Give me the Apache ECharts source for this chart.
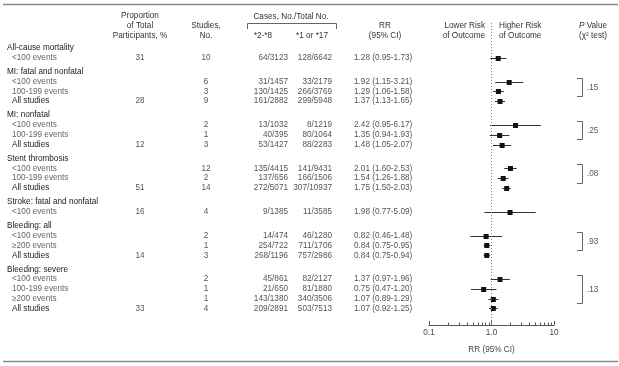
<!DOCTYPE html>
<html><head><meta charset="utf-8">
<script src="https://cdn.jsdelivr.net/npm/echarts@6/dist/echarts.min.js"></script>
<style>html,body{margin:0;padding:0;background:#fff}#c{width:619px;height:366px}</style>
</head><body><div id="c"></div>
<script>
// ---------- data ----------
const groupNames = ['All-cause mortality','MI: fatal and nonfatal','MI: nonfatal','Stent thrombosis','Stroke: fatal and nonfatal','Bleeding: all','Bleeding: severe'];
const pValues = ['', '.15', '.25', '.08', '', '.93', '.13'];
const rowGroup = [0,1,1,1,2,2,2,3,3,3,4,5,5,5,6,6,6,6];
const rowLabels = ['<100 events','<100 events','100-199 events','All studies','<100 events','100-199 events','All studies','<100 events','100-199 events','All studies','<100 events','<100 events','\u2265200 events','All studies','<100 events','100-199 events','\u2265200 events','All studies'];
const proportion = ['31','','','28','','','12','','','51','16','','','14','','','','33'];
const studies = ['10','6','3','9','2','1','3','12','2','14','4','2','1','3','2','1','1','4'];
const casesLoF = ['64/3123','31/1457','130/1425','161/2882','13/1032','40/395','53/1427','135/4415','137/656','272/5071','9/1385','14/474','254/722','268/1196','45/861','21/650','143/1380','209/2891'];
const casesRef = ['128/6642','33/2179','266/3769','299/5948','8/1219','80/1064','88/2283','141/9431','166/1506','307/10937','11/3585','46/1280','711/1706','757/2986','82/2127','81/1880','340/3506','503/7513'];
const rr     = [1.28,1.92,1.29,1.37,2.42,1.35,1.48,2.01,1.54,1.75,1.98,0.82,0.84,0.84,1.37,0.75,1.07,1.07];
const rrLow  = [0.95,1.15,1.06,1.13,0.95,0.94,1.05,1.60,1.26,1.50,0.77,0.46,0.75,0.75,0.97,0.47,0.89,0.92];
const rrHigh = [1.73,3.21,1.58,1.65,6.17,1.93,2.07,2.53,1.88,2.03,5.09,1.48,0.95,0.94,1.96,1.20,1.29,1.25];
const majorTicks = [0.1, 1, 10];
const majorTickLabels = ['0.1', '1.0', '10'];
const minorTicks = [0.2,0.3,0.4,0.5,0.6,0.7,0.8,0.9,2,3,4,5,6,7,8,9];

// ---------- layout ----------
const FONT = '"Liberation Sans", Arial, Helvetica, sans-serif';
const FS = 8.2;
const font = (w) => (w||'normal') + ' ' + FS + 'px ' + FONT;
const GAP = 0.43;
let pos = 0; const headerU = []; const rowU = [];
groupNames.forEach((g, gi) => {
  if (gi > 0) pos += GAP;
  headerU.push(pos); pos += 1;
  rowGroup.forEach((rg, ri) => { if (rg === gi) { rowU[ri] = pos; pos += 1; } });
});
const Y_MIN = -25/9.8, Y_MAX = Y_MIN + 302/9.8;

const chart = echarts.init(document.getElementById('c'), null, {renderer:'canvas'});
const forestData = rr.map((v,i)=>[v, rrLow[i], rrHigh[i], rowU[i]]);

chart.setOption({
  animation:false,
  backgroundColor:'#fff',
  grid:{left:429, right:65, top:23, bottom:41},
  xAxis:{
    type:'log', logBase:10, min:0.1, max:10, position:'bottom',
    axisLine:{show:true, onZero:false, lineStyle:{color:'#555', width:1}},
    axisTick:{show:true, inside:true, length:4, lineStyle:{color:'#555'}},
    splitLine:{show:false}, minorTick:{show:false}, minorSplitLine:{show:false},
    axisLabel:{margin:4, color:'#444', fontSize:FS, fontFamily:FONT,
      formatter:(v)=>{ for (let i=0;i<majorTicks.length;i++){ if (Math.abs(Math.log10(v)-Math.log10(majorTicks[i]))<1e-6) return majorTickLabels[i]; } return ''; }},
    name:'RR (95% CI)', nameLocation:'middle', nameGap:21,
    nameTextStyle:{color:'#444', fontSize:FS, fontFamily:FONT}
  },
  yAxis:{type:'value', inverse:true, min:Y_MIN, max:Y_MAX, show:false},
  series:[
    {
      type:'custom', data:forestData, encode:{x:[0,1,2], y:3}, clip:false,
      renderItem:(params, api)=>{
        const c = api.coord([api.value(0), api.value(3)]);
        const xl = api.coord([api.value(1), api.value(3)])[0];
        const xh = api.coord([api.value(2), api.value(3)])[0];
        const y = Math.round(c[1]) + 0.5;
        return {type:'group', children:[
          {type:'line', shape:{x1:xl, y1:y, x2:xh, y2:y}, style:{stroke:'#333', lineWidth:1}},
          {type:'rect', shape:{x:c[0]-2.5, y:y-2.5, width:5, height:5}, style:{fill:'#111'}}
        ]};
      },
      markLine:{
        silent:true, symbol:['none','none'], label:{show:false},
        lineStyle:{color:'#888', type:[1,2], width:1},
        data:[{xAxis:1}]
      }
    },
    {
      type:'custom', data:minorTicks.map(v=>[v]), encode:{x:0}, clip:false,
      renderItem:(params, api)=>{
        const p = api.coord([api.value(0), Y_MAX]);
        const x = Math.round(p[0]) + 0.5;
        return {type:'line', shape:{x1:x, y1:p[1], x2:x, y2:p[1]-2.5}, style:{stroke:'#555', lineWidth:1}};
      }
    }
  ]
});

// ---------- table text ----------
const py = (u) => chart.convertToPixel({yAxisIndex:0}, u);
const els = [];
function txt(text, x, y, align, fill, weight){
  els.push({type:'text', silent:true, style:{text:text, x:x, y:y, align:align||'left', verticalAlign:'middle', fill:fill||'#444', font:font(weight)}});
}
function line(points, color, w){
  els.push({type:'polyline', silent:true, shape:{points:points}, style:{stroke:color||'#666', lineWidth:w||1, fill:null}});
}
// rules
line([[3,4.5],[618,4.5]], '#888', 1.4);
line([[3,361.5],[618,361.5]], '#888', 1.4);
// column headers
const HC = '#333';
txt('Proportion', 140, 16, 'center', HC);
txt('of Total', 140, 26, 'center', HC);
txt('Participants, %', 140, 36, 'center', HC);
txt('Studies,', 206, 26, 'center', HC);
txt('No.', 206, 36, 'center', HC);
txt('Cases, No./Total No.', 291, 16.5, 'center', HC);
line([[247.5,29],[247.5,23.5],[336.5,23.5],[336.5,29]], '#666', 1);
txt('*2-*8', 263, 36, 'center', HC);
txt('*1 or *17', 312, 36, 'center', HC);
txt('RR', 385, 26, 'center', HC);
txt('(95% CI)', 385, 36, 'center', HC);
txt('Lower Risk', 485, 26, 'right', HC);
txt('of Outcome', 485, 36, 'right', HC);
txt('Higher Risk', 499, 26, 'left', HC);
txt('of Outcome', 499, 36, 'left', HC);
els.push({type:'text', silent:true, style:{text:'{i|P} Value', x:593, y:26, align:'center', verticalAlign:'middle', fill:HC, font:font(),
  rich:{i:{fontStyle:'italic', fontSize:FS, fontFamily:FONT, fill:HC}}}});
txt('(\u03C7\u00B2 test)', 593, 36, 'center', HC);

// group headers
groupNames.forEach((g, gi) => txt(g, 7, py(headerU[gi]), 'left', '#222'));
// data rows
rowLabels.forEach((lab, i) => {
  const y = py(rowU[i]);
  const isAll = lab === 'All studies';
  txt(lab, 12, y, 'left', isAll ? '#222' : '#666');
  if (proportion[i]) txt(proportion[i], 140, y, 'center', '#555');
  txt(studies[i], 206, y, 'center', '#555');
  txt(casesLoF[i], 288, y, 'right', '#555');
  txt(casesRef[i], 332, y, 'right', '#555');
  txt(rr[i].toFixed(2) + ' (' + rrLow[i].toFixed(2) + '-' + rrHigh[i].toFixed(2) + ')', 354, y, 'left', '#555');
});
// p-value brackets
pValues.forEach((p, gi) => {
  if (!p) return;
  const idx = rowGroup.map((g,i)=>i).filter(i => rowGroup[i]===gi && rowLabels[i] !== 'All studies');
  const yT = Math.round(py(rowU[idx[0]]) - 4) + 0.5;
  const yB = Math.round(py(rowU[idx[idx.length-1]]) + 4.5) + 0.5;
  line([[577,yT],[582.5,yT],[582.5,yB],[577,yB]], '#666', 1);
  txt(p, 587, (yT+yB)/2, 'left', '#555');
});
chart.setOption({graphic:{elements:els}});
</script>
</body></html>
